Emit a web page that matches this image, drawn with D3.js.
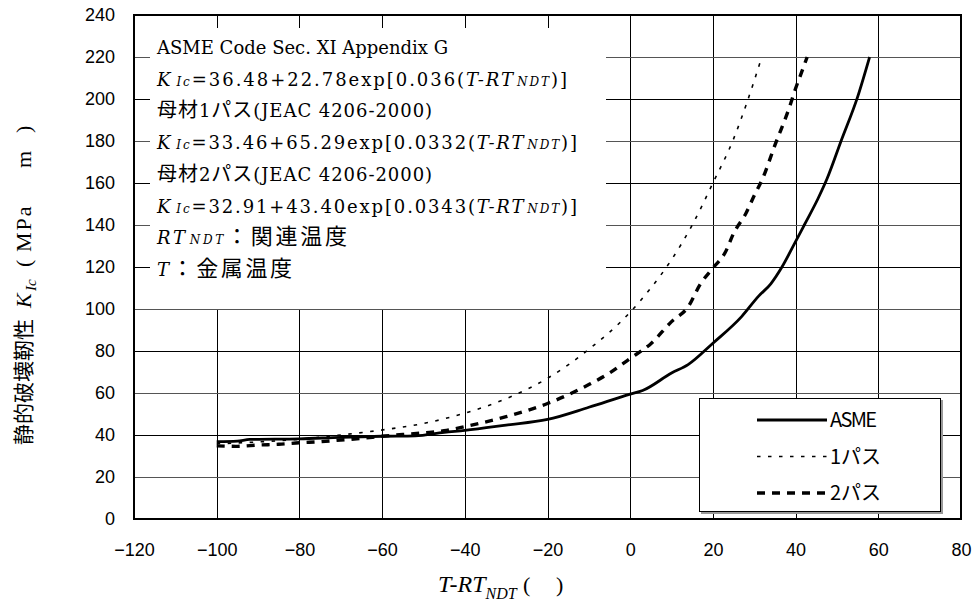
<!DOCTYPE html>
<html>
<head>
<meta charset="utf-8">
<script src="https://cdn.jsdelivr.net/npm/d3@7/dist/d3.min.js"></script>
<style>
	body { margin: 0; background: #fff; }
	svg { display: block; }
</style>
</head>
<body>
<div id="chart"></div>
<script>
// axis ticks
const xTicks = [-120, -100, -80, -60, -40, -20, 0, 20, 40, 60, 80];
const yTicks = [0, 20, 40, 60, 80, 100, 120, 140, 160, 180, 200, 220, 240];

// [T-RTndt, KIc]
const asmeCurve = [
	[-100, 36.8], [-95, 37.1], [-92, 37.9], [-80, 38.2], [-70, 38.9], [-60, 39.4],
	[-52, 39.6], [-45, 41.3], [-40, 42.2], [-30, 44.7], [-20, 47.4], [-10, 53.2],
	[0, 59.5], [3, 61.2], [10, 69.5], [14, 73.5], [20, 83.7], [27, 96.5],
	[31, 106], [34, 112], [36.7, 120], [39.7, 131], [42.1, 140], [45.4, 152.5],
	[47.6, 162], [51, 180], [55, 201], [57.9, 220],
];
const pass1Curve = [
	[-100, 35.8], [-90, 36.7], [-80, 38.0], [-70, 40.0], [-60, 42.4], [-50, 45.5],
	[-40, 50.4], [-30, 57.3], [-20, 67.0], [-10, 80.8], [0, 98.5], [5, 110],
	[10, 123.5], [15, 140], [20, 160], [25, 181], [28, 197], [31.5, 218],
];
const pass2Curve = [
	[-100, 34.8], [-95, 34.6], [-90, 35.2], [-85, 35.6], [-80, 36.3], [-75, 36.8],
	[-70, 37.6], [-65, 38.4], [-60, 39.4], [-50, 41.0], [-45, 42.0], [-40, 44.0],
	[-30, 48.7], [-20, 55.0], [-10, 64.0], [-5, 69.5], [0, 76.5], [5, 83.5],
	[10, 94], [14, 101], [17, 112], [20, 119.5], [23, 127], [25, 136],
	[28, 145.6], [30, 154], [32, 162], [35, 178], [38.5, 196], [40, 205],
	[41.5, 213], [42.8, 220],
];
const legendLabels = ['ASME', '1パス', '2パス'];

const series = [
	{data: asmeCurve, width: 2.8, dash: null},
	{data: pass1Curve, width: 1.6, dash: '3.5,7.5'},
	{data: pass2Curve, width: 3.4, dash: '8,7'},
];

const W = 975;
const H = 605;
const plot = {left: 134, right: 961, top: 15, bottom: 519};
const SERIF = '"DejaVu Serif", "Noto Sans CJK JP", serif';
const TIMES = '"Liberation Serif", "Times New Roman", serif';
const SANS = '"Liberation Sans", Arial, sans-serif';
const JP = '"Noto Sans CJK JP", sans-serif';

const svg = d3
	.select('#chart')
	.append('svg')
	.attr('width', W)
	.attr('height', H);

const x = d3.scaleLinear().domain([-120, 80]).range([plot.left, plot.right]);
const y = d3.scaleLinear().domain([0, 240]).range([plot.bottom, plot.top]);

// grid
const grid = svg.append('g').attr('shape-rendering', 'crispEdges');
grid.selectAll('line.v')
	.data(xTicks.slice(1, -1))
	.enter()
	.append('line')
	.attr('x1', d => Math.round(x(d)) + 0.5)
	.attr('x2', d => Math.round(x(d)) + 0.5)
	.attr('y1', plot.top)
	.attr('y2', plot.bottom)
	.attr('stroke', '#000')
	.attr('stroke-width', 1);
grid.selectAll('line.h')
	.data(yTicks.slice(1, -1))
	.enter()
	.append('line')
	.attr('x1', plot.left)
	.attr('x2', plot.right)
	.attr('y1', d => Math.round(y(d)) + 0.5)
	.attr('y2', d => Math.round(y(d)) + 0.5)
	.attr('stroke', (d, i) => (i % 2 ? '#000' : '#555'))
	.attr('stroke-width', 1);

// tick labels via axes, without tick marks or domain
const xAxis = svg.append('g')
	.attr('transform', `translate(0,${plot.bottom})`)
	.call(d3.axisBottom(x).tickValues(xTicks).tickSize(0).tickPadding(31).tickFormat(d3.format('d')));
const yAxis = svg.append('g')
	.attr('transform', `translate(${plot.left},0)`)
	.call(d3.axisLeft(y).tickValues(yTicks).tickSize(0).tickPadding(19).tickFormat(d3.format('d')));
[xAxis, yAxis].forEach(a => {
	a.select('.domain').remove();
	a.selectAll('text')
		.attr('font-family', SANS)
		.attr('font-size', 18)
		.attr('fill', '#000');
});
xAxis.selectAll('text').attr('dy', '0.32em');

// text box
svg.append('rect')
	.attr('x', 150)
	.attr('y', 28)
	.attr('width', 456)
	.attr('height', 281)
	.attr('fill', '#fff');

const boxLines = [
	[{t: 'ASME Code Sec. XI Appendix G'}],
	[{t: 'K', it: 1}, {t: 'Ic', it: 1, sm: 1, dx: 4}, {t: '=36.48+22.78exp[0.036('}, {t: 'T-RT', it: 1}, {t: 'NDT', it: 1, sm: 1, dx: 2}, {t: ')]'}],
	[{t: '母材', jp: 20}, {t: '1'}, {t: 'パス', jp: 20}, {t: '(JEAC 4206-2000)'}],
	[{t: 'K', it: 1}, {t: 'Ic', it: 1, sm: 1, dx: 4}, {t: '=33.46+65.29exp[0.0332('}, {t: 'T-RT', it: 1}, {t: 'NDT', it: 1, sm: 1, dx: 2}, {t: ')]'}],
	[{t: '母材', jp: 20}, {t: '2'}, {t: 'パス', jp: 20}, {t: '(JEAC 4206-2000)'}],
	[{t: 'K', it: 1}, {t: 'Ic', it: 1, sm: 1, dx: 4}, {t: '=32.91+43.40exp[0.0343('}, {t: 'T-RT', it: 1}, {t: 'NDT', it: 1, sm: 1, dx: 2}, {t: ')]'}],
	[{t: 'RT', it: 1}, {t: 'NDT', it: 1, sm: 1, dx: 2}, {t: '：関連温度', jp: 22}],
	[{t: 'T', it: 1}, {t: '：金属温度', jp: 22}],
];
// right edge of each line in the reference
const lineEnds = [438, 567, 432, 577, 432, 577, 347, 292];

const box = svg.append('g');
boxLines.forEach((segs, i) => {
	const txt = box.append('text')
		.attr('x', 157)
		.attr('y', 54 + i * 31.7)
		.attr('font-family', SERIF)
		.attr('font-size', 18)
		.attr('fill', '#000');
	segs.forEach(s => {
		txt.append('tspan')
			.attr('dx', s.dx || 0)
			.attr('font-style', s.it ? 'italic' : null)
			.attr('font-size', s.sm ? 12 : s.jp || null)
			.attr('font-family', s.jp ? JP : null)
			.text(s.t);
	});
	// stretch letter spacing so the line ends where it does in the reference
	const bb = txt.node().getBBox();
	const n = segs.reduce((acc, s) => acc + s.t.length, 0);
	const ls = Math.max(0, (lineEnds[i] - (bb.x + bb.width)) / (n - 1));
	txt.attr('letter-spacing', ls.toFixed(2));
});

// curves
const line = d3.line()
	.x(d => x(d[0]))
	.y(d => y(d[1]))
	.curve(d3.curveMonotoneX);

svg.append('g')
	.selectAll('path')
	.data(series)
	.enter()
	.append('path')
	.attr('d', d => line(d.data))
	.attr('fill', 'none')
	.attr('stroke', '#000')
	.attr('stroke-width', d => d.width)
	.attr('stroke-dasharray', d => d.dash);

// frame
svg.append('rect')
	.attr('x', plot.left)
	.attr('y', plot.top)
	.attr('width', plot.right - plot.left)
	.attr('height', plot.bottom - plot.top)
	.attr('fill', 'none')
	.attr('stroke', '#000')
	.attr('stroke-width', 2);

// legend
const legend = svg.append('g');
legend.append('rect')
	.attr('x', 701)
	.attr('y', 400)
	.attr('width', 242)
	.attr('height', 114)
	.attr('fill', '#999');
legend.append('rect')
	.attr('x', 699.5)
	.attr('y', 398.5)
	.attr('width', 241)
	.attr('height', 113)
	.attr('fill', '#fff')
	.attr('stroke', '#000')
	.attr('stroke-width', 1);

const items = legend.selectAll('g.item')
	.data(series)
	.enter()
	.append('g')
	.attr('transform', (d, i) => `translate(0,${420 + i * 36.5})`);
items.append('line')
	.attr('x1', 757)
	.attr('x2', 827)
	.attr('stroke', '#000')
	.attr('stroke-width', d => d.width)
	.attr('stroke-dasharray', d => d.dash);
items.append('text')
	.attr('x', 830)
	.attr('dy', '0.36em')
	.attr('font-family', '"Liberation Sans Narrow", "Arial Narrow", "Noto Sans CJK JP", sans-serif')
	.attr('font-size', 20)
	.attr('textLength', (d, i) => (i === 0 ? 47 : null))
	.text((d, i) => legendLabels[i]);

// x axis title
const xt = svg.append('text')
	.attr('x', 438)
	.attr('y', 592)
	.attr('font-family', TIMES)
	.attr('font-size', 24);
xt.append('tspan').attr('font-style', 'italic').text('T-RT');
xt.append('tspan').attr('font-style', 'italic').attr('font-size', 16).attr('dy', 7).text('NDT');
xt.append('tspan').attr('x', 523).attr('dy', -7).attr('font-size', 22).text('(');
xt.append('tspan').attr('x', 556).attr('font-size', 22).text(')');

// y axis title (rotated, positions along the baseline)
const yt = svg.append('text')
	.attr('transform', 'translate(31,445) rotate(-90)')
	.attr('font-family', TIMES)
	.attr('font-size', 22);
yt.append('tspan').attr('x', 0).attr('font-family', JP).attr('font-size', 21).text('静的破壊靭性');
yt.append('tspan').attr('x', 137).attr('font-style', 'italic').text('K');
yt.append('tspan').attr('x', 154).attr('dy', 5).attr('font-style', 'italic').attr('font-size', 15).text('Ic');
yt.append('tspan').attr('x', 178).attr('dy', -5).text('(');
yt.append('tspan').attr('x', 193).attr('letter-spacing', 2).text('MPa');
yt.append('tspan').attr('x', 277).text('m');
yt.append('tspan').attr('x', 312).text(')');
</script>
</body>
</html>
